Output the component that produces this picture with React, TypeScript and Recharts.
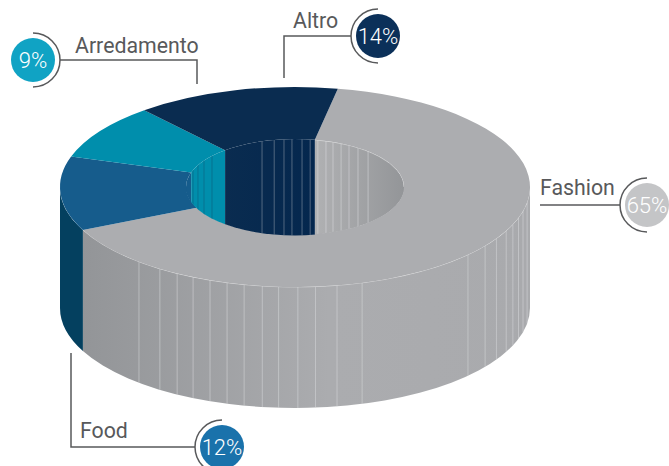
import React from 'react';
import { PieChart, Pie, Cell } from 'recharts';

const categories = ['Fashion', 'Food', 'Arredamento', 'Altro'];
const shares = [65, 12, 9, 14];
const topColors = ['#acadb0', '#165c8c', '#008eac', '#0a2c50'];
const badgeColors = ['#c4c5c7', '#1a72ab', '#10a3c4', '#0b3059'];

// seams between the extruded facets, in degrees around the ring
const outerSeams = [228.4, 234.9, 239.9, 244.3, 248.8, 253.2, 257.5, 262, 266, 270.7, 275, 280.3, 286.6, 317.4, 324, 329, 334, 338, 342, 346, 351];
const innerSeams = [47.9, 54.7, 60.3, 65, 69.6, 73.5, 77.9, 82, 86.3, 91.6, 95.8, 101, 107.6, 139.6, 146.6, 152.9, 159.4];

const rows = categories.map((name, i) => ({ name, value: shares[i] }));

const CX = 295;
const CY = 187;
const OUTER = 235;
const INNER = 109;
const OUTER_RY = 100;
const INNER_RY = 48;
const DEPTH = 121;
const INK = '#58595b';

const callouts: Record<string, any> = {
  Arredamento: { cx: 33, cy: 60, dir: 1, line: '60,60 197,60 197,84', tx: 75, ty: 53 },
  Altro: { cx: 378, cy: 36, dir: -1, line: '351,36 284,36 284,78', tx: 293, ty: 28 },
  Fashion: { cx: 647, cy: 205, dir: -1, line: '620,205 540,205', tx: 540, ty: 195 },
  Food: { cx: 222, cy: 447, dir: -1, line: '195,447 71,447 71,353', tx: 80, ty: 438 },
};

const rad = (a: number) => (a * Math.PI) / 180;
const px = (r: number, a: number) => CX + r * Math.cos(rad(a));
const py = (ry: number, a: number) => CY - ry * Math.sin(rad(a));

// part of [a0,a1] that falls in [lo,hi], trying each full turn
const overlaps = (a0: number, a1: number, lo: number, hi: number) => {
  const out: [number, number][] = [];
  [-720, -360, 0, 360].forEach((k) => {
    const s = Math.max(a0, lo + k);
    const e = Math.min(a1, hi + k);
    if (e > s) out.push([s, e]);
  });
  return out;
};

const wallPath = (r: number, ry: number, s: number, e: number) => {
  const large = e - s > 180 ? 1 : 0;
  return `M${px(r, s)} ${py(ry, s)}A${r} ${ry} 0 ${large} 0 ${px(r, e)} ${py(ry, e)}L${px(r, e)} ${py(ry, e) + DEPTH}A${r} ${ry} 0 ${large} 1 ${px(r, s)} ${py(ry, s) + DEPTH}Z`;
};

const edgePath = (r: number, ry: number, s: number, e: number) =>
  `M${px(r, s)} ${py(ry, s)}A${r} ${ry} 0 ${e - s > 180 ? 1 : 0} 0 ${px(r, e)} ${py(ry, e)}`;

const seamsIn = (list: number[], s: number, e: number) =>
  list.filter((a) => [-720, -360, 0, 360].some((k) => a + k > s && a + k < e));

const innerSeamColor: Record<string, string> = { Fashion: '#d9dadc', Altro: '#8e9aa8', Arredamento: '#0a5d7a', Food: '#0a5d7a' };

const RingSlice = (props: any) => {
  const a0 = Math.min(props.startAngle, props.endAngle);
  const a1 = Math.max(props.startAngle, props.endAngle);
  const name = props.payload?.name ?? props.name;
  const large = a1 - a0 > 180 ? 1 : 0;
  const top = `M${px(OUTER, a0)} ${py(OUTER_RY, a0)}A${OUTER} ${OUTER_RY} 0 ${large} 0 ${px(OUTER, a1)} ${py(OUTER_RY, a1)}L${px(INNER, a1)} ${py(INNER_RY, a1)}A${INNER} ${INNER_RY} 0 ${large} 1 ${px(INNER, a0)} ${py(INNER_RY, a0)}Z`;
  const outerFill = name === 'Fashion' ? 'url(#fashionOuter)' : name === 'Food' ? '#04405f' : props.fill;
  const innerFill = name === 'Fashion' ? 'url(#fashionInner)' : name === 'Altro' ? 'url(#altroInner)' : props.fill;

  return (
    <g>
      <g clipPath="url(#hole)">
        {overlaps(a0, a1, 0, 180).map(([s, e], i) => (
          <g key={i}>
            <path d={wallPath(INNER, INNER_RY, s, e)} fill={innerFill} />
            {seamsIn(innerSeams, s, e).map((a) => (
              <line key={a} x1={px(INNER, a)} x2={px(INNER, a)} y1={py(INNER_RY, a)} y2={py(INNER_RY, a) + DEPTH} stroke={innerSeamColor[name]} strokeOpacity={0.7} strokeWidth={0.8} />
            ))}
            {name === 'Fashion' && (
              <path d={edgePath(INNER, INNER_RY, s, e)} fill="none" stroke="#fff" strokeOpacity={0.5} strokeWidth={0.8} />
            )}
          </g>
        ))}
      </g>
      {overlaps(a0, a1, 180, 360).map(([s, e], i) => (
        <g key={i}>
          <path d={wallPath(OUTER, OUTER_RY, s, e)} fill={outerFill} />
          {seamsIn(outerSeams, s, e).map((a) => (
            <line key={a} x1={px(OUTER, a)} x2={px(OUTER, a)} y1={py(OUTER_RY, a)} y2={py(OUTER_RY, a) + DEPTH} stroke="#d9dadc" strokeOpacity={0.65} strokeWidth={0.8} />
          ))}
          <path d={edgePath(OUTER, OUTER_RY, s, e)} fill="none" stroke="#fff" strokeOpacity={0.5} strokeWidth={0.8} />
        </g>
      ))}
      <path d={top} fill={props.fill} />
    </g>
  );
};

const Callouts = () => (
  <g fontFamily="Roboto">
    {categories.map((name, i) => {
      const c = callouts[name];
      return (
        <g key={name}>
          <polyline points={c.line} fill="none" stroke={INK} strokeWidth={1.5} />
          <path d={`M${c.cx} ${c.cy - 27}A27 27 0 0 ${c.dir > 0 ? 1 : 0} ${c.cx} ${c.cy + 27}`} fill="none" stroke={INK} strokeWidth={1.5} />
          <circle cx={c.cx} cy={c.cy} r={22} fill={badgeColors[i]} />
          <text x={c.tx} y={c.ty} fontSize={21.3} fill={INK}>{name}</text>
          <text x={c.cx} y={c.cy + 8} fontSize={22} fontWeight={300} fill="#fff" textAnchor="middle">{`${shares[i]}%`}</text>
        </g>
      );
    })}
  </g>
);

export default function App() {
  return (
    <div style={{ position: 'absolute', left: 0, top: 0, width: 669, height: 466, background: '#fff' }}>
      <PieChart width={669} height={466} margin={{ top: 0, right: 0, bottom: 0, left: 0 }}>
        <defs>
          <clipPath id="hole">
            <ellipse cx={CX} cy={CY} rx={INNER + 0.5} ry={INNER_RY + 0.5} />
          </clipPath>
          <linearGradient id="fashionOuter" gradientUnits="userSpaceOnUse" x1={83} x2={530} y1={0} y2={0}>
            <stop offset="0" stopColor="#939598" />
            <stop offset="0.55" stopColor="#abacaf" />
            <stop offset="1" stopColor="#a9aaad" />
          </linearGradient>
          <linearGradient id="fashionInner" gradientUnits="userSpaceOnUse" x1={315} x2={405} y1={0} y2={0}>
            <stop offset="0" stopColor="#b0b1b3" />
            <stop offset="1" stopColor="#939598" />
          </linearGradient>
          <linearGradient id="altroInner" gradientUnits="userSpaceOnUse" x1={222} x2={315} y1={0} y2={0}>
            <stop offset="0" stopColor="#0a2c50" />
            <stop offset="1" stopColor="#04274e" />
          </linearGradient>
        </defs>
        <Pie
          data={rows}
          dataKey="value"
          nameKey="name"
          cx={CX}
          cy={CY}
          innerRadius={INNER}
          outerRadius={OUTER}
          startAngle={79.5}
          endAngle={-280.5}
          paddingAngle={0}
          stroke="none"
          shape={RingSlice}
          isAnimationActive={false}
        >
          {rows.map((r, i) => (
            <Cell key={r.name} fill={topColors[i]} />
          ))}
        </Pie>
        <Callouts />
      </PieChart>
    </div>
  );
}
